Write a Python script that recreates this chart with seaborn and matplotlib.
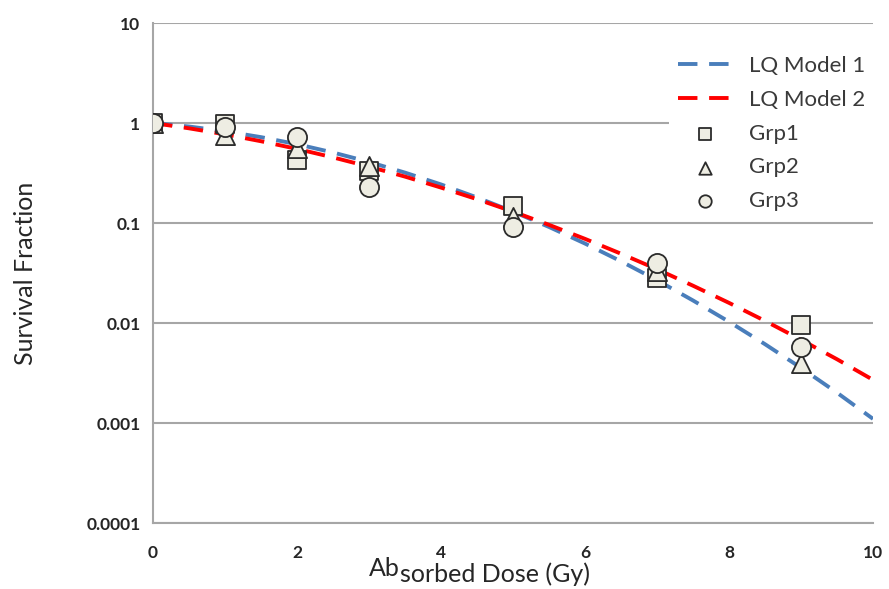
import numpy as np
import pandas as pd
import matplotlib
matplotlib.use("Agg")
import matplotlib.pyplot as plt
from matplotlib.ticker import MultipleLocator, LogLocator, NullFormatter
import seaborn as sns

# ── data ────────────────────────────────────────────────────────────────────
dose_curve = [0, 0.5, 1, 1.5, 2, 2.5, 3, 3.5, 4, 4.5, 5,
              5.5, 6, 6.5, 7, 7.5, 8, 8.5, 9, 9.5, 10]
lq_model_1 = [1.0, 0.922, 0.827, 0.722, 0.614, 0.507, 0.408, 0.319, 0.243, 0.180, 0.130,
              0.0913, 0.0623, 0.0414, 0.0268, 0.0168, 0.0103, 0.00614, 0.00356, 0.00201, 0.0011]
lq_model_2 = [1.0, 0.885, 0.770, 0.657, 0.551, 0.453, 0.366, 0.291, 0.226, 0.173, 0.130,
              0.0959, 0.0694, 0.0493, 0.0345, 0.0236, 0.0159, 0.0105, 0.0068, 0.00434, 0.0027]

dose_pts = [0, 1, 2, 3, 5, 7, 9]
grp1 = [1.0, 0.97, 0.43, 0.33, 0.148, 0.028, 0.0095]
grp2 = [1.0, 0.76, 0.56, 0.37, 0.116, 0.033, 0.004]
grp3 = [1.0, 0.92, 0.73, 0.23, 0.092, 0.040, 0.0058]

y_ticks = [1e1, 1e0, 1e-1, 1e-2, 1e-3, 1e-4]
y_tick_labels = ["10", "1", "0.1", "0.01", "0.001", "0.0001"]
x_ticks = [0, 2, 4, 6, 8, 10]

curves = pd.DataFrame({"dose": dose_curve, "m1": lq_model_1, "m2": lq_model_2})
points = pd.DataFrame({"dose": dose_pts, "g1": grp1, "g2": grp2, "g3": grp3})

# ── style ───────────────────────────────────────────────────────────────────
sns.set_style("white")
plt.rcParams["font.family"] = ["Lato", "DejaVu Sans"]

GRID = "#A6A6A6"
FACE = "#EEEDE3"
EDGE = "#2B2B2B"
TXT = "#262626"

fig = plt.figure(figsize=(8.89, 5.89), dpi=100)
ax = fig.add_axes([153 / 889, 1 - 523 / 589, 720 / 889, 500 / 589])

sns.lineplot(data=curves, x="dose", y="m1", ax=ax, color="#4A7EBB", lw=2.8,
             linestyle=(0, (5, 3)), label="LQ Model 1", zorder=3)
sns.lineplot(data=curves, x="dose", y="m2", ax=ax, color="#FF0000", lw=2.8,
             linestyle=(0, (5, 3)), label="LQ Model 2", zorder=3)
sns.scatterplot(data=points, x="dose", y="g1", ax=ax, marker="s", s=150,
                facecolor=FACE, edgecolor=EDGE, linewidth=1.3, label="Grp1", zorder=4)
sns.scatterplot(data=points, x="dose", y="g2", ax=ax, marker="^", s=190,
                facecolor=FACE, edgecolor=EDGE, linewidth=1.3, label="Grp2", zorder=4)
sns.scatterplot(data=points, x="dose", y="g3", ax=ax, marker="o", s=190,
                facecolor=FACE, edgecolor=EDGE, linewidth=1.3, label="Grp3", zorder=4)

ax.set_yscale("log")
ax.set_ylim(1e-4, 10)
ax.set_xlim(0, 10)

ax.set_yticks(y_ticks)
ax.set_yticklabels(y_tick_labels)
ax.yaxis.set_minor_locator(LogLocator(base=10, subs=np.arange(2, 10)))
ax.yaxis.set_minor_formatter(NullFormatter())
ax.set_xticks(x_ticks)
ax.xaxis.set_minor_locator(MultipleLocator(0.2))

ax.tick_params(axis="both", which="major", direction="in", length=6, width=1,
               color=GRID, labelsize=12.5, labelcolor=TXT)
ax.tick_params(axis="y", which="major", pad=9)
ax.tick_params(axis="x", which="major", pad=16)
ax.tick_params(axis="both", which="minor", direction="in", length=3.5, width=1, color=GRID)
for lab in ax.get_xticklabels() + ax.get_yticklabels():
    lab.set_fontweight("bold")

ax.grid(axis="y", which="major", color=GRID, lw=1.5)
for s in ["top", "right"]:
    ax.spines[s].set_visible(False)
for s in ["left", "bottom"]:
    ax.spines[s].set_color(GRID)
    ax.spines[s].set_linewidth(1.5)

ax.set_xlabel("")
ax.set_ylabel("Survival Fraction", fontsize=18, color=TXT)
ax.yaxis.set_label_coords(-0.161, 0.5)

# broken x label as in the source chart
t1 = fig.text(369 / 889, 1 - 576 / 589, "Ab", fontsize=18, color=TXT,
              ha="left", va="baseline")
ax.annotate("sorbed Dose (Gy)", xy=(1, 0), xycoords=t1, xytext=(0, -4),
            textcoords="offset points", fontsize=18, color=TXT,
            ha="left", va="bottom", annotation_clip=False)

leg = ax.legend(loc="upper right", bbox_to_anchor=(885 / 889, 1 - 36 / 589),
                bbox_transform=fig.transFigure, fontsize=16, handlelength=2.5,
                labelspacing=0.62, markerscale=0.65, frameon=True,
                facecolor="white", edgecolor="none", framealpha=1,
                borderpad=0.4, handletextpad=0.7)
for t in leg.get_texts():
    t.set_color("#3A3A3A")

fig.savefig("out.png", dpi=100, facecolor="white")
